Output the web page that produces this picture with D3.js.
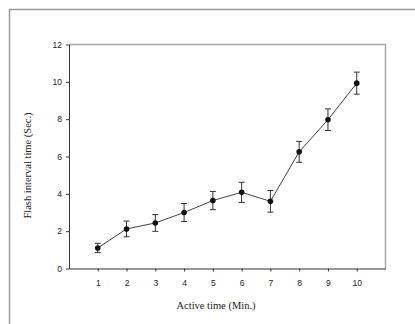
<!DOCTYPE html>
<html lang="en">
<head>
<meta charset="UTF-8">
<script src="https://d3js.org/d3.v7.min.js"></script>
<style>
  body { margin: 0; background: #fff; }
</style>
</head>
<body>
<div id="chart"></div>
<script>
    // values
    const minutes = [1, 2, 3, 4, 5, 6, 7, 8, 9, 10];
    const flashMean = [1.1, 2.12, 2.44, 3.0, 3.64, 4.08, 3.6, 6.25, 7.97, 9.93];
    const flashErr = [0.25, 0.42, 0.45, 0.48, 0.49, 0.54, 0.58, 0.56, 0.58, 0.59];
    const yTicks = [0, 2, 4, 6, 8, 10, 12];

    const width = 415, height = 324;
    const marginLeft = 69, marginTop = 44.5, marginRight = 29.5, marginBottom = 55.5;

    const svg = d3.select("#chart").append("svg")
        .attr("width", width)
        .attr("height", height);

    // outer frame of the figure
    svg.append("path")
        .attr("d", `M9.5,${height}V9.5H${width}`)
        .attr("fill", "none")
        .attr("stroke", "#9a9a9a")
        .attr("stroke-width", 1.5);

    const x = d3.scaleLinear([0, 11], [marginLeft, width - marginRight]);
    const y = d3.scaleLinear([0, 12], [height - marginBottom, marginTop]);

    // plot box top and right
    svg.append("path")
        .attr("d", `M${x(0)},${y(12)}H${x(11)}V${y(0)}`)
        .attr("fill", "none")
        .attr("stroke", "#a8a8a8")
        .attr("stroke-width", 1.5);

    svg.append("g")
        .attr("transform", `translate(0,${y(0)})`)
        .call(d3.axisBottom(x).tickValues(minutes).tickSize(3).tickSizeOuter(0))
        .call(g => g.select(".domain").attr("stroke", "#333"))
        .call(g => g.selectAll(".tick line").attr("stroke", "#333"))
        .call(g => g.selectAll("text")
            .attr("font-family", "Liberation Sans, Arial, sans-serif")
            .attr("font-size", 8.5)
            .attr("fill", "#222")
            .attr("dy", "1.3em"));

    svg.append("g")
        .attr("transform", `translate(${x(0)},0)`)
        .call(d3.axisLeft(y).tickValues(yTicks).tickSize(3).tickSizeOuter(0))
        .call(g => g.select(".domain").attr("stroke", "#333"))
        .call(g => g.selectAll(".tick line").attr("stroke", "#333"))
        .call(g => g.selectAll("text")
            .attr("font-family", "Liberation Sans, Arial, sans-serif")
            .attr("font-size", 8.5)
            .attr("fill", "#222")
            .attr("x", -7));

    const pts = minutes.map((m, i) => ({ m, v: flashMean[i], e: flashErr[i] }));

    svg.append("path")
        .datum(pts)
        .attr("fill", "none")
        .attr("stroke", "#444")
        .attr("stroke-width", 1)
        .attr("d", d3.line().x(d => x(d.m)).y(d => y(d.v)));

    const err = svg.append("g")
        .attr("stroke", "#333")
        .attr("stroke-width", 1)
        .selectAll("g")
        .data(pts)
        .join("g");
    err.append("line")
        .attr("x1", d => x(d.m)).attr("x2", d => x(d.m))
        .attr("y1", d => y(d.v - d.e)).attr("y2", d => y(d.v + d.e));
    err.append("line")
        .attr("x1", d => x(d.m) - 3).attr("x2", d => x(d.m) + 3)
        .attr("y1", d => y(d.v + d.e)).attr("y2", d => y(d.v + d.e));
    err.append("line")
        .attr("x1", d => x(d.m) - 3).attr("x2", d => x(d.m) + 3)
        .attr("y1", d => y(d.v - d.e)).attr("y2", d => y(d.v - d.e));

    svg.append("g")
        .selectAll("circle")
        .data(pts)
        .join("circle")
        .attr("cx", d => x(d.m))
        .attr("cy", d => y(d.v))
        .attr("r", 2.8)
        .attr("fill", "#111");

    svg.append("text")
        .attr("x", 216)
        .attr("y", 309)
        .attr("text-anchor", "middle")
        .attr("font-family", "Liberation Serif, Times New Roman, serif")
        .attr("font-size", 10.5)
        .attr("fill", "#222")
        .text("Active time (Min.)");

    svg.append("text")
        .attr("transform", `translate(31,${165.5}) rotate(-90)`)
        .attr("text-anchor", "middle")
        .attr("font-family", "Liberation Serif, Times New Roman, serif")
        .attr("font-size", 10.5)
        .attr("fill", "#222")
        .text("Flash interval time (Sec.)");
</script>
</body>
</html>
